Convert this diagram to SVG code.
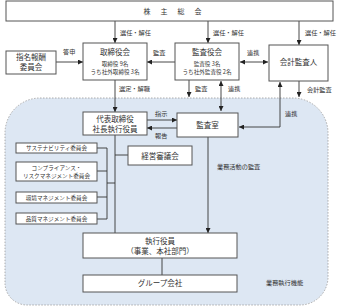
<svg xmlns="http://www.w3.org/2000/svg" width="337" height="307" viewBox="0 0 337 307">
<style>
text{font-family:"Noto Sans CJK JP","Noto Sans",sans-serif;fill:#333;}
.t{font-size:7.5px;text-anchor:middle;}
.s{font-size:5.6px;text-anchor:middle;}
.l{font-size:6.2px;}
.box{fill:#fff;stroke:#555;stroke-width:1;}
.ln{fill:none;stroke:#333;stroke-width:0.9;}
</style>
<defs>
<marker id="a" viewBox="0 0 6 6" refX="6" refY="3" markerWidth="5" markerHeight="5" orient="auto-start-reverse" markerUnits="userSpaceOnUse"><path d="M0,0L6,3L0,6z" fill="#222"/></marker>
</defs>
<rect width="337" height="307" fill="#fff"/>
<path id="region" d="M40,98 H293 A35,35 0 0 1 328,133 V277 A28,28 0 0 1 300,305 H27 A22,22 0 0 1 5,283 V133 A35,35 0 0 1 40,98 Z" fill="#dde7f3" stroke="#999" stroke-width="0.8" stroke-dasharray="1.5 1.5"/>
<g id="connectors">
<line class="ln" x1="115" y1="21" x2="115" y2="43" marker-end="url(#a)"/>
<line class="ln" x1="208" y1="21" x2="208" y2="43" marker-end="url(#a)"/>
<line class="ln" x1="299" y1="21" x2="299" y2="45" marker-end="url(#a)"/>
<line class="ln" x1="56" y1="62" x2="83" y2="62" marker-end="url(#a)"/>
<line class="ln" x1="175" y1="62" x2="147" y2="62" marker-end="url(#a)"/>
<line class="ln" x1="240" y1="62" x2="268" y2="62" marker-start="url(#a)" marker-end="url(#a)"/>
<line class="ln" x1="115" y1="80" x2="115" y2="112" marker-end="url(#a)"/>
<line class="ln" x1="189" y1="80" x2="189" y2="97" marker-end="url(#a)"/>
<line class="ln" x1="221" y1="81" x2="221" y2="111" marker-start="url(#a)" marker-end="url(#a)"/>
<line class="ln" x1="299" y1="81" x2="299" y2="97" marker-end="url(#a)"/>
<polyline class="ln" points="280,82 280,127 239,127" marker-start="url(#a)" marker-end="url(#a)"/>
<line class="ln" x1="147" y1="120" x2="177" y2="120" marker-end="url(#a)"/>
<line class="ln" x1="177" y1="128" x2="147" y2="128" marker-end="url(#a)"/>
<line class="ln" x1="208" y1="137" x2="208" y2="233" marker-end="url(#a)"/>
<line class="ln" x1="115" y1="135" x2="115" y2="233"/>
<line class="ln" x1="115" y1="155" x2="128" y2="155"/>
<polyline class="ln" points="97,148 107,148 107,219 97,219"/>
<line class="ln" x1="97" y1="171" x2="107" y2="171"/>
<line class="ln" x1="97" y1="197" x2="107" y2="197"/>
<line class="ln" x1="107" y1="183" x2="115" y2="183"/>
<line class="ln" x1="162" y1="258" x2="162" y2="275"/>
</g>
<g id="labels">
<text class="l" x="120" y="35">選任・解任</text>
<text class="l" x="213" y="35">選任・解任</text>
<text class="l" x="305" y="35">選任・解任</text>
<text class="l" x="63" y="54">答申</text>
<text class="l" x="153" y="55">監査</text>
<text class="l" x="247" y="55">連携</text>
<text class="l" x="119" y="91">選定・解職</text>
<text class="l" x="195" y="91">監査</text>
<text class="l" x="228" y="91">連携</text>
<text class="l" x="307" y="92">会計監査</text>
<text class="l" x="285" y="116">連携</text>
<text class="l" x="155" y="116">指示</text>
<text class="l" x="155" y="138">報告</text>
<text class="l" x="217" y="169">業務活動の監査</text>
<text class="l" x="266" y="285">業務執行機能</text>
</g>
<g id="shareholders">
<rect class="box" x="6" y="1" width="327" height="20" stroke="#888"/>
<text x="143.5" y="14" style="font-size:7px;letter-spacing:10px">株主総会</text>
</g>
<g id="nomination">
<rect class="box" x="6" y="51" width="50" height="23"/>
<text class="t" x="31" y="60">指名報酬</text>
<text class="t" x="31" y="70">委員会</text>
</g>
<g id="board">
<rect class="box" x="83" y="43" width="64" height="37"/>
<text class="t" x="115" y="55">取締役会</text>
<text class="s" x="115" y="66">取締役 9名</text>
<text class="s" x="115" y="74">うち社外取締役 3名</text>
</g>
<g id="auditboard">
<rect class="box" x="175" y="43" width="64" height="37"/>
<text class="t" x="207" y="55">監査役会</text>
<text class="s" x="207" y="66">監査役 3名</text>
<text class="s" x="207" y="74">うち社外監査役 2名</text>
</g>
<g id="accountant">
<rect class="box" x="269" y="45" width="59" height="36"/>
<text class="t" x="298.5" y="65">会計監査人</text>
</g>
<g id="president">
<rect class="box" x="83" y="112" width="64" height="23"/>
<text class="t" x="115" y="122">代表取締役</text>
<text class="t" x="115" y="132">社長執行役員</text>
</g>
<g id="auditoffice">
<rect class="box" x="177" y="113" width="61" height="24"/>
<text class="t" x="207.5" y="127.5">監査室</text>
</g>
<g id="mgmtcouncil">
<rect class="box" x="128" y="146" width="64" height="19"/>
<text class="t" x="160" y="158.5">経営審議会</text>
</g>
<g id="sustainability">
<rect class="box" x="16" y="143" width="81" height="10"/>
<text class="s" x="56.5" y="150">サステナビリティ委員会</text>
</g>
<g id="compliance">
<rect class="box" x="16" y="162" width="81" height="19"/>
<text class="s" x="56.5" y="169.5">コンプライアンス・</text>
<text class="s" x="56.5" y="177.5">リスクマネジメント委員会</text>
</g>
<g id="environment">
<rect class="box" x="16" y="192" width="81" height="11"/>
<text class="s" x="56.5" y="199.5">環境マネジメント委員会</text>
</g>
<g id="quality">
<rect class="box" x="16" y="213" width="81" height="11"/>
<text class="s" x="56.5" y="220.5">品質マネジメント委員会</text>
</g>
<g id="officers">
<rect class="box" x="83" y="233" width="154" height="25"/>
<text class="t" x="160" y="243.5">執行役員</text>
<text class="t" x="160" y="254">（事業、本社部門）</text>
</g>
<g id="group">
<rect class="box" x="83" y="275" width="154" height="17"/>
<text class="t" x="160" y="286">グループ会社</text>
</g>
</svg>
